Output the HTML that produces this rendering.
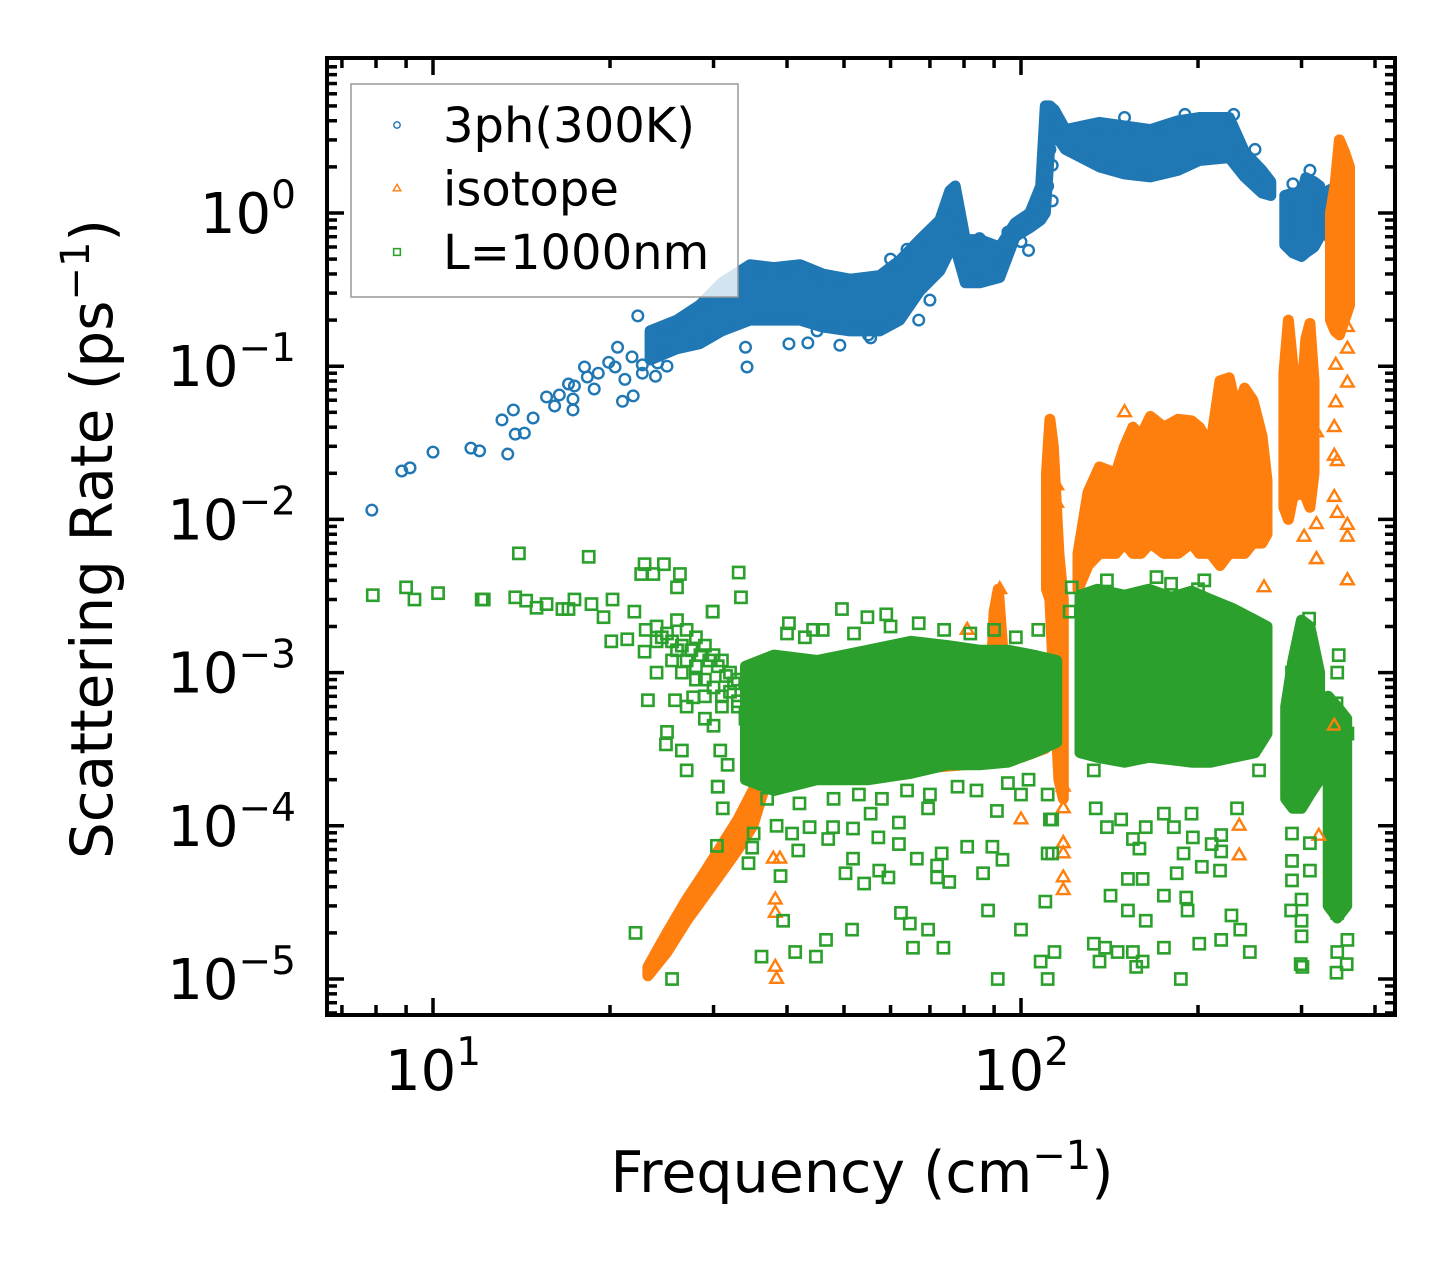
<!DOCTYPE html>
<html><head><meta charset="utf-8"><style>
html,body{margin:0;padding:0;background:#fff;}
svg{display:block;font-family:"DejaVu Sans","Liberation Sans",sans-serif;}
</style></head><body>
<svg id="chart" width="1455" height="1265" viewBox="0 0 1455 1265" xmlns="http://www.w3.org/2000/svg">
<defs><clipPath id="plotclip"><rect x="327" y="58" width="1068" height="957"/></clipPath></defs>
<rect x="0" y="0" width="1455" height="1265" fill="#fff"/>
<g id="bands" clip-path="url(#plotclip)"></g>
<g id="points" clip-path="url(#plotclip)"></g>
<g id="axes"></g>
<g id="legend"></g>
<text x="862" y="1192" font-size="57" text-anchor="middle">Frequency (cm<tspan dy="-23" font-size="40">−1</tspan><tspan dy="23">)</tspan></text>
<text transform="translate(112,539) rotate(-90)" font-size="58" text-anchor="middle">Scattering Rate (ps<tspan dy="-23" font-size="40">−1</tspan><tspan dy="23">)</tspan></text>
</svg>
<script>
// ---- data: 3ph(300K) ----
const blueFreq = [7.87,8.85,9.14,10,11.6,12.0,13.4,13.1,13.7,13.8,14.3,14.8,15.6,16.1,16.4,17.0,17.4,17.3,17.3,18.1,18.3,18.8,19.1,19.9,20.4,20.6,21.2,21.0,21.9,21.8,22.7,22.7,23.9,24.1,25.0,22.3,34.2,34.0,40.3,43.4,49.2,55.5,67,70,92,103,112,113,111,113,
 30,36,40,45,60,64,85,95,150,190,230,250,290,310,45,55,100,27,29,32,26];
const blueRate = [0.0115,0.0207,0.0217,0.0275,0.0292,0.028,0.0267,0.0446,0.0518,0.036,0.0366,0.0459,0.063,0.055,0.0649,0.0765,0.0743,0.061,0.0518,0.0988,0.085,0.071,0.090,0.106,0.0988,0.133,0.082,0.059,0.064,0.115,0.102,0.090,0.086,0.105,0.10,0.213,0.0988,0.133,0.14,0.142,0.137,0.153,0.2,0.27,0.48,0.57,2.6,2.05,1.5,1.2,
 0.3,0.42,0.44,0.38,0.5,0.58,0.68,0.75,4.2,4.4,4.4,2.6,1.55,1.9,0.17,0.16,0.65,0.21,0.24,0.28,0.18];
const blueBandFreq = [23.4,26,28.4,31,34.6,38,42.1,46,51.2,57.5,62.2,67.3,72.8,75.7,77.3,80.4,85.1,92,97.7,103.5,108,110,112,114,119,136,150,166,185,201,226,240,257,266, 281,290,300,305,315,322, 333,345,358];
const blueBandHi = [0.17,0.2,0.25,0.35,0.46,0.44,0.46,0.4,0.37,0.39,0.49,0.67,0.9,1.4,1.5,0.67,0.67,0.6,0.86,1.0,1.5,5.0,5.0,4.7,3.5,3.9,3.7,3.5,4.0,4.2,4.2,2.5,1.9,1.6, 1.3,1.35,1.3,1.7,1.6,1.5, 1.4,1.5,1.5];
const blueBandLo = [0.11,0.13,0.14,0.17,0.2,0.2,0.2,0.18,0.17,0.17,0.2,0.31,0.42,0.57,0.6,0.35,0.35,0.38,0.7,0.8,0.9,1.0,2.8,3.3,2.6,2.0,1.8,1.72,1.9,2.2,2.3,1.72,1.35,1.3, 0.62,0.55,0.52,0.55,0.6,0.7, 0.7,0.8,1.0];
const blueBandSeg = [0,0,0,0,0,0,0,0,0,0,0,0,0,0,0,0,0,0,0,0,0,0,0,0,0,0,0,0,0,0,0,0,0,0, 1,1,1,1,1,1, 2,2,2];
// ---- data: isotope ----
const orangeFreq = [150,150,174,343,359,359,343,359,341,341,345,341,345,359,359,318,318,318,296,303,223,235,115,115,359,235,235,118,118,118,118,118,118,318,359,259,321,341,38.2,38.2,38.2,38.4,37.9,38.9,81,92,91,112,100,118,118];
const orangeRate = [0.05,0.028,0.037,0.102,0.13,0.18,0.058,0.078,0.040,0.026,0.024,0.014,0.011,0.0092,0.0077,0.0055,0.0093,0.037,0.0145,0.0077,0.0071,0.007,0.0128,0.0167,0.004,1.0e-4,6.4e-5,4.6e-5,3.8e-5,7.7e-5,6.6e-5,1.3e-4,1.8e-4,5.5e-3,4e-3,3.6e-3,8.6e-5,4.5e-4,3.3e-5,2.7e-5,1.2e-5,1.0e-5,6.1e-5,6.1e-5,1.9e-3,3.5e-3,2.3e-3,6.6e-3,1.1e-4,1.3e-4,7.7e-5];
const orangeBandFreq = [23.2,25,27,29,31,33,35,36.5, 36.5,50,70,90,100,110, 88.5,90,91.5,93, 110.5,112,113.5,116,118, 125,130,136,145,150,155,160,166,175,185,195,201,210,218,226,233,240,248,257,262, 280,285,290,300,305,310,315, 336,342,348,355,362];
const orangeBandHi = [1.2e-5,2.0e-5,3.3e-5,5e-5,7.5e-5,1.1e-4,1.7e-4,2.6e-4, 3e-4,7e-4,8e-4,8e-4,8e-4,8e-4, 6e-4,2.5e-3,3.5e-3,1.5e-3, 0.02,0.045,0.03,0.006,0.003, 0.006,0.015,0.022,0.02,0.03,0.04,0.035,0.047,0.04,0.045,0.044,0.04,0.03,0.08,0.084,0.05,0.072,0.06,0.035,0.018, 0.09,0.2,0.1,0.06,0.15,0.19,0.08, 1.0,1.5,3.0,2.5,2.0];
const orangeBandLo = [1.05e-5,1.5e-5,2.4e-5,3.5e-5,5e-5,7e-5,1.0e-4,1.7e-4, 2.1e-4,2.2e-4,2.4e-4,2.6e-4,2.8e-4,3.2e-4, 3e-4,3e-4,3e-4,3e-4, 0.0035,0.003,0.001,2e-4,1.5e-4, 0.0035,0.005,0.006,0.006,0.007,0.006,0.006,0.007,0.006,0.006,0.007,0.006,0.006,0.005,0.006,0.006,0.006,0.007,0.007,0.008, 0.012,0.01,0.014,0.015,0.014,0.012,0.02, 0.2,0.17,0.16,0.2,0.25];
const orangeBandSeg = [0,0,0,0,0,0,0,0, 1,1,1,1,1,1, 2,2,2,2, 3,3,3,3,3, 4,4,4,4,4,4,4,4,4,4,4,4,4,4,4,4,4,4,4,4, 5,5,5,5,5,5,5, 6,6,6,6,6];
// ---- data: L=1000nm ----
const greenFreq = [7.9,9.0,9.3,10.2,12.1,12.2,14.0,13.8,14.4,15.0,15.6,16.6,17.0,17.4,18.4,18.6,19.5,20.2,20.1,21.4,22.0,22.9,22.6,24.7,23.7,26.0,26.3,33.1,33.4,22.9,24.0,23.2,25.8,24.9,25.0,26.5,27.0,30.5,31.7,29.9,27.7,30.8,
 24,25,26,27,28,29,30,31,32,33,27,28,29,30,31,26,33,34,29,30,27,
 25.5,26.5,27.5,28.5,29.5,30.5,31.5,32.5,24.5,25.5,26.5,28,29,31,32,33,34,23,24,
 22.1,25.5,36.2,39.4,41.3,44.8,46.6,51.6,62.5,64.7,65.5,69.5,73.8,87.9,91.3,100,110,108,114,111,
 133,139,146,136,155,161,157,175,187,201,219,245,236,142,152,163,175,184,191,192,228,152,161,203,218,133,134,140,148,155,159,163,175,182,189,196,195,211,219,219,233,113,111,127,254,
 289,300,288,300,300,299,301,289,310,310,289,309,301,289,347,345,344,359,344,358,345,359,345,
 34.4,39.0,41.8,47.0,51.8,51.8,50.3,54.1,57.2,57.4,59.5,62.0,66.5,72.0,72.0,75.5,73.3,81.0,86.2,93.0,89.4,113,112,111,100,91,69.5,62.0,55.5,47.9,43.7,40.8,38.4,35.1,34.9,30.4,31.1,30.5,59,54.8,49.6,40.3,29.9,42.9,44.3,107,122,121,140,170,180,200,205,
 37,42,48,53,58,64,70,78,84,95,103,40,46,52,60,67,74,82,90,98];
const greenRate = [3.2e-3,3.6e-3,3.0e-3,3.3e-3,3.0e-3,3.0e-3,6.0e-3,3.1e-3,2.95e-3,2.65e-3,2.8e-3,2.6e-3,2.6e-3,3.0e-3,5.7e-3,2.8e-3,2.3e-3,3.0e-3,1.6e-3,1.65e-3,2.5e-3,5.1e-3,4.4e-3,5.1e-3,4.4e-3,3.6e-3,4.4e-3,4.5e-3,3.1e-3,1.37e-3,1.0e-3,6.6e-4,6.6e-4,3.4e-4,4.1e-4,3.1e-4,2.3e-4,1.8e-4,2.5e-4,2.5e-3,6.9e-4,3.1e-4,
 2e-3,1.8e-3,2.2e-3,1.9e-3,1.7e-3,1.5e-3,1.3e-3,1.2e-3,1.0e-3,9e-4,1.2e-3,1.1e-3,9e-4,8e-4,7e-4,1.4e-3,6e-4,5e-4,5e-4,4.5e-4,6e-4,
 1.6e-3,1.5e-3,1.4e-3,1.3e-3,1.2e-3,1.1e-3,9.5e-4,8.5e-4,1.7e-3,1.2e-3,1.0e-3,9e-4,7e-4,6e-4,7.5e-4,6.5e-4,5.5e-4,1.9e-3,1.6e-3,
 2e-5,1.0e-5,1.4e-5,2.4e-5,1.5e-5,1.4e-5,1.8e-5,2.1e-5,2.7e-5,2.3e-5,1.6e-5,2.1e-5,1.6e-5,2.8e-5,1.0e-5,2.1e-5,3.2e-5,1.3e-5,1.5e-5,1.0e-5,
 1.7e-5,1.6e-5,1.5e-5,1.3e-5,1.5e-5,1.3e-5,1.2e-5,1.6e-5,1.0e-5,1.7e-5,1.8e-5,1.5e-5,2.1e-5,3.5e-5,2.8e-5,2.4e-5,3.5e-5,4.9e-5,3.4e-5,2.8e-5,2.6e-5,4.5e-5,4.5e-5,5.4e-5,5.1e-5,2.3e-4,1.3e-4,9.8e-5,1.1e-4,8.2e-5,7.1e-5,9.8e-5,1.2e-4,9.8e-5,6.6e-5,8.4e-5,1.2e-4,7.6e-5,8.7e-5,6.8e-5,1.3e-4,1.1e-4,6.6e-5,3.5e-4,2.3e-4,
 4.4e-5,3.3e-5,2.8e-5,2.4e-5,1.9e-5,1.25e-5,1.2e-5,5.9e-5,5.1e-5,7.7e-5,8.9e-5,2.25e-3,1.9e-3,1e-3,1.3e-3,1e-3,6.3e-4,4e-4,1.1e-5,1.25e-5,1.5e-5,1.8e-5,2.7e-5,
 5.7e-5,4.7e-5,6.9e-5,8.2e-5,9.6e-5,6.1e-5,4.9e-5,4.2e-5,8.4e-5,5.1e-5,4.6e-5,7.6e-5,6.1e-5,5.5e-5,4.6e-5,4.3e-5,6.6e-5,7.3e-5,4.9e-5,6.0e-5,7.3e-5,6.6e-5,1.1e-4,1.6e-4,1.6e-4,1.25e-4,1.3e-4,1.05e-4,1.2e-4,9.8e-5,9.8e-5,8.9e-5,1.0e-4,8.9e-5,7.2e-5,7.4e-5,1.3e-4,1.8e-4,2.4e-3,2.3e-3,2.6e-3,2.1e-3,2.5e-3,1.7e-3,1.9e-3,1.9e-3,3.6e-3,2.5e-3,4.0e-3,4.2e-3,3.8e-3,3.5e-3,4e-3,
 1.5e-4,1.4e-4,1.5e-4,1.6e-4,1.5e-4,1.7e-4,1.6e-4,1.8e-4,1.7e-4,1.9e-4,2.0e-4,1.8e-3,1.9e-3,1.8e-3,2.0e-3,2.1e-3,1.9e-3,1.8e-3,1.9e-3,1.7e-3];
const greenBandFreq = [34,38,45,55,65,75,85,95,105,115, 126,135,150,165,180,195,210,230,250,262, 282,290,300,310,322, 333,345,358];
const greenBandHi = [1.1e-3,1.3e-3,1.2e-3,1.4e-3,1.6e-3,1.5e-3,1.4e-3,1.4e-3,1.3e-3,1.2e-3, 3.2e-3,3.5e-3,3.2e-3,3.5e-3,3.1e-3,3.4e-3,3.0e-3,2.6e-3,2.2e-3,2e-3, 6e-4,1.2e-3,2.2e-3,2e-3,1e-3, 7e-4,6e-4,5e-4];
const greenBandLo = [2.0e-4,1.7e-4,2.0e-4,2.0e-4,2.2e-4,2.5e-4,2.5e-4,2.6e-4,3.0e-4,3.5e-4, 3e-4,2.8e-4,2.6e-4,2.8e-4,2.7e-4,2.6e-4,2.6e-4,2.8e-4,3e-4,4e-4, 1.5e-4,1.3e-4,1.3e-4,1.6e-4,2e-4, 3e-5,2.5e-5,3e-5];
const greenBandSeg = [0,0,0,0,0,0,0,0,0,0, 1,1,1,1,1,1,1,1,1,1, 2,2,2,2,2, 3,3,3];
// ---- axis ticks ----
const xMajorTicks = [10,100];
const xMajorLabels = ["1","2"];
const xMinorTicks = [7,8,9,20,30,40,50,60,70,80,90,200,300,400];
const yMajorTicks = [1,0.1,0.01,0.001,0.0001,0.00001];
const yMajorLabels = ["0","−1","−2","−3","−4","−5"];
const legendLabels = ["3ph(300K)","isotope","L=1000nm"];

const NS='http://www.w3.org/2000/svg';
const X0=327,X1=1395,Y0=58,Y1=1015;
function xs(f){return 433+588*(Math.log10(f)-1);}
function ys(v){return 213-153.2*Math.log10(v);}
function mk(tag,attrs,parent){const e=document.createElementNS(NS,tag);for(const k in attrs)e.setAttribute(k,attrs[k]);parent.appendChild(e);return e;}

const bandsG=document.getElementById('bands');
const ptsG=document.getElementById('points');
const axG=document.getElementById('axes');
const legG=document.getElementById('legend');
const COLORS={blue:'#1f77b4',orange:'#ff7f0e',green:'#2ca02c'};

function drawBand(freq,hi,lo,seg,color,name){
  const segs=[...new Set(seg)];
  segs.forEach(s=>{
    const idx=freq.map((f,i)=>i).filter(i=>seg[i]===s);
    let d='';
    idx.forEach((i,k)=>{d+=(k?'L':'M')+xs(freq[i]).toFixed(1)+','+ys(hi[i]).toFixed(1);});
    idx.slice().reverse().forEach(i=>{d+='L'+xs(freq[i]).toFixed(1)+','+ys(lo[i]).toFixed(1);});
    d+='Z';
    const p=mk('path',{d:d,fill:color,stroke:color,'stroke-width':11,'stroke-linejoin':'round'},bandsG);
    
    
  });
}
function marker(kind,x,y,color,parent,s){
  s=s||1;
  let e;
  if(kind==='circle'){e=mk('circle',{cx:x,cy:y,r:5.3*s,fill:'none',stroke:color,'stroke-width':2.4*s},parent);}
  else if(kind==='tri'){const r=7*s;e=mk('polygon',{points:`${x},${y-r} ${x-r*0.9},${y+r*0.55} ${x+r*0.9},${y+r*0.55}`,fill:'none',stroke:color,'stroke-width':2.4*s,'stroke-linejoin':'miter'},parent);}
  else {const h=5.6*s;e=mk('rect',{x:x-h,y:y-h,width:2*h,height:2*h,fill:'none',stroke:color,'stroke-width':2.6*s},parent);}
  return e;
}
function drawPoints(freq,rate,kind,color,name){
  freq.forEach((f,i)=>{
    const e=marker(kind,xs(f),ys(rate[i]),color,ptsG);
    
    
  });
}
drawBand(blueBandFreq,blueBandHi,blueBandLo,blueBandSeg,COLORS.blue,'3ph');
drawPoints(blueFreq,blueRate,'circle',COLORS.blue,'3ph');
drawBand(orangeBandFreq,orangeBandHi,orangeBandLo,orangeBandSeg,COLORS.orange,'isotope');
drawPoints(orangeFreq,orangeRate,'tri',COLORS.orange,'isotope');
drawBand(greenBandFreq,greenBandHi,greenBandLo,greenBandSeg,COLORS.green,'boundary');
drawPoints(greenFreq,greenRate,'square',COLORS.green,'boundary');

// axes frame
const fr=mk('rect',{x:X0,y:Y0,width:X1-X0,height:Y1-Y0,fill:'none',stroke:'#000','stroke-width':4},axG);


function tick(x1,y1,x2,y2,name){const t=mk('line',{x1:x1,y1:y1,x2:x2,y2:y2,stroke:'#000','stroke-width':3.5},axG);
  
  }
xMajorTicks.forEach((f,i)=>{
  const x=xs(f);
  tick(x,Y1,x,Y1-17,'x-major-tick');tick(x,Y0,x,Y0+17,'x-major-tick-top');
  const t=mk('text',{x:x,y:1090,'font-size':56,'text-anchor':'middle'},axG);
  
  
  t.innerHTML='10<tspan dy="-25" font-size="39">'+xMajorLabels[i]+'</tspan>';
});
xMinorTicks.forEach(f=>{const x=xs(f);tick(x,Y1,x,Y1-10,'x-minor-tick');tick(x,Y0,x,Y0+10,'x-minor-tick-top');});
yMajorTicks.forEach((v,i)=>{
  const y=ys(v);
  tick(X0,y,X0+17,y,'y-major-tick');tick(X1,y,X1-17,y,'y-major-tick-right');
  const t=mk('text',{x:296,y:y+20,'font-size':56,'text-anchor':'end'},axG);
  
  
  t.innerHTML='10<tspan dy="-25" font-size="39">'+yMajorLabels[i]+'</tspan>';
});
for(let e=-6;e<=1;e++){for(let m=2;m<=9;m++){const v=m*Math.pow(10,e);const y=ys(v);if(y>Y0+2&&y<Y1-2){tick(X0,y,X0+10,y,'y-minor-tick');tick(X1,y,X1-10,y,'y-minor-tick-right');}}}

// legend
const lb=mk('rect',{x:351,y:84,width:387,height:213,fill:'#fff','fill-opacity':0.8,stroke:'#999','stroke-width':1.5},legG);


const kinds=['circle','tri','square'];const cols=[COLORS.blue,COLORS.orange,COLORS.green];
legendLabels.forEach((lab,i)=>{
  const cy=125+i*63.5;
  const m=marker(kinds[i],397,cy,cols[i],legG,0.6);
  
  
  const t=mk('text',{x:443,y:cy+17,'font-size':48},legG);
  
  
  t.textContent=lab;
});
</script>
</body></html>
